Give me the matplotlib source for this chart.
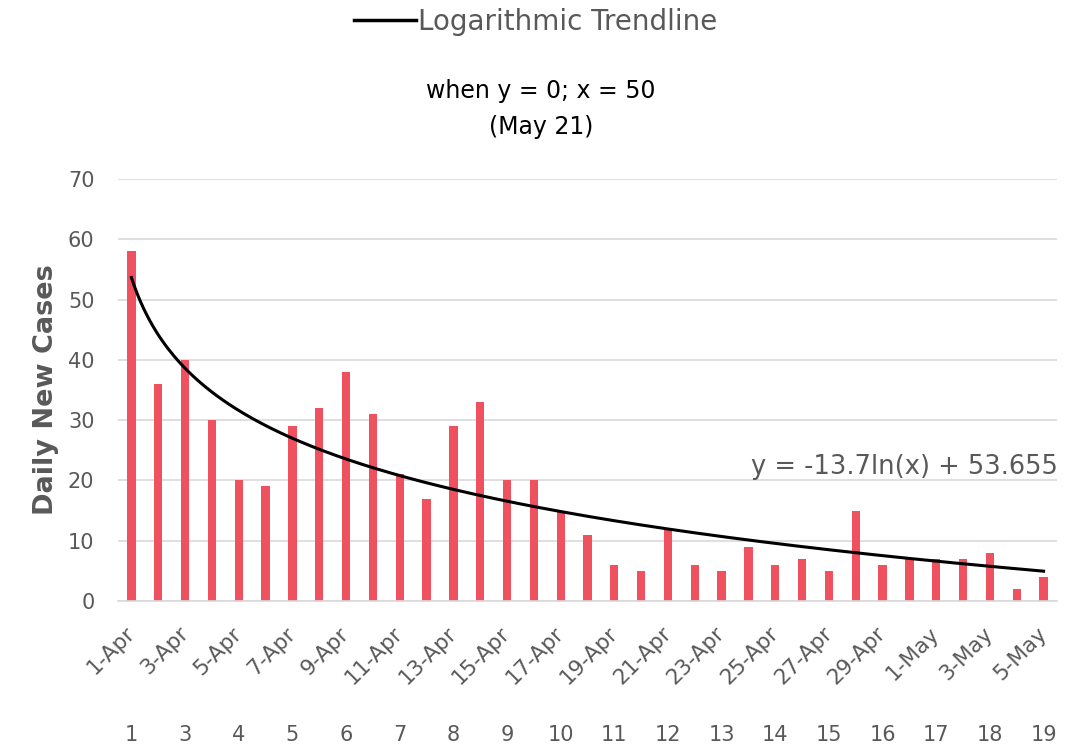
import numpy as np
import matplotlib
matplotlib.use("Agg")
import matplotlib.pyplot as plt
from matplotlib.lines import Line2D
import matplotlib.transforms as mtransforms

# ---- data ----
dates = ["1-Apr", "2-Apr", "3-Apr", "4-Apr", "5-Apr", "6-Apr", "7-Apr", "8-Apr", "9-Apr",
         "10-Apr", "11-Apr", "12-Apr", "13-Apr", "14-Apr", "15-Apr", "16-Apr", "17-Apr",
         "18-Apr", "19-Apr", "20-Apr", "21-Apr", "22-Apr", "23-Apr", "24-Apr", "25-Apr",
         "26-Apr", "27-Apr", "28-Apr", "29-Apr", "30-Apr", "1-May", "2-May", "3-May",
         "4-May", "5-May"]
cases = [58, 36, 40, 30, 20, 19, 29, 32, 38, 31, 21, 17, 29, 33, 20, 20, 15, 11, 6, 5,
         12, 6, 5, 9, 6, 7, 5, 15, 6, 7, 7, 7, 8, 2, 4]
second_row = ["1", "3", "4", "5", "6", "7", "8", "9", "10", "11", "12", "13", "14", "15",
              "16", "17", "18", "19"]
trend_slope = -13.7
trend_intercept = 53.655

GRAY = "#595959"
BAR = "#F0515F"

plt.rcParams["font.family"] = ["DejaVu Sans"]

fig = plt.figure(figsize=(10.71, 7.52), dpi=100)
ax = fig.add_axes([118 / 1071, 1 - 601 / 752, (1057 - 118) / 1071, (601 - 179) / 752])

x = np.arange(1, len(cases) + 1)
ax.bar(x, cases, width=0.31, color=BAR, zorder=2)

xt = np.linspace(1, len(cases), 300)
ax.plot(xt, trend_slope * np.log(xt) + trend_intercept, color="black", lw=2.2, zorder=3)

ax.set_xlim(0.5, len(cases) + 0.5)
ax.set_ylim(0, 70)
ax.set_yticks(range(0, 71, 10))
ax.grid(axis="y", color="#d9d9d9", lw=1.2, zorder=0)
ax.set_axisbelow(True)
for s in ["top", "right", "left"]:
    ax.spines[s].set_visible(False)
ax.spines["bottom"].set_color("#d9d9d9")
ax.spines["bottom"].set_linewidth(1.2)
ax.tick_params(axis="both", length=0, colors=GRAY, labelsize=15)
ax.tick_params(axis="y", pad=17)

tick_pos = x[::2]
ax.set_xticks(tick_pos)
ax.set_xticklabels(dates[::2], rotation=45, ha="right", va="center",
                   rotation_mode="anchor", fontsize=15.5, color=GRAY)
ax.tick_params(axis="x", pad=21)

trans = mtransforms.blended_transform_factory(ax.transData, fig.transFigure)
for pos, lab in zip(tick_pos, second_row):
    ax.text(pos, 1 - 735 / 752, lab, transform=trans, ha="center", va="center",
            fontsize=15, color=GRAY)

ax.set_ylabel("Daily New Cases", fontsize=19.5, fontweight="bold", color=GRAY, labelpad=6)

ax.text(1058 / 1071, 1 - 467 / 752, "y = -13.7ln(x) + 53.655", transform=fig.transFigure,
        ha="right", va="center", fontsize=18.5, color=GRAY)

fig.text(541 / 1071, 1 - 91 / 752, "when y = 0; x = 50", ha="center", va="center",
         fontsize=17, color="black")
fig.text(541 / 1071, 1 - 127 / 752, "(May 21)", ha="center", va="center",
         fontsize=17, color="black")

leg = fig.legend(handles=[Line2D([], [], color="black", lw=2.5)],
                 labels=["Logarithmic Trendline"], loc="center",
                 bbox_to_anchor=(536 / 1071, 1 - 22 / 752), frameon=False,
                 fontsize=20, handlelength=2.2, handletextpad=0.1)
for t in leg.get_texts():
    t.set_color(GRAY)

fig.savefig("out.png", dpi=100)
